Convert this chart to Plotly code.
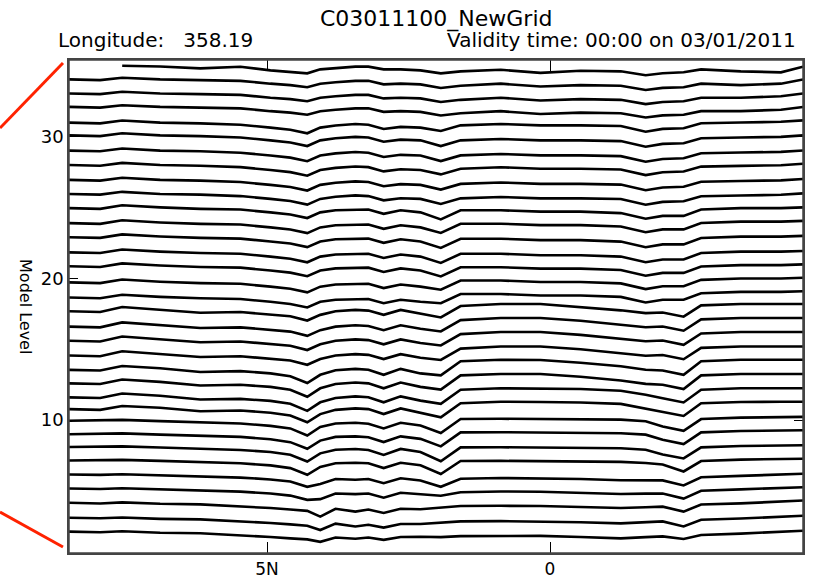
import plotly.graph_objects as go

# Latitude nodes (degrees north; negative = south)
latitude = [8.5, 7.95, 7.56, 6.89, 6.18, 5.47, 4.94, 4.59, 4.29, 4.06, 3.79, 3.44, 3.21, 2.94,
            2.64, 2.29, 1.93, 1.58, 0.87, 0.17, -0.54, -1.25, -1.69, -1.99, -2.36, -2.67,
            -3.37, -4.08, -4.47]

# Model-level surfaces (one list per line, bottom to top), in model-level units
model_level_lines = [
    [2.14, 2.09, 2.16, 2.06, 2.02, 1.89, 1.76, 1.66, 1.59, 1.42, 1.72, 1.64, 1.72, 1.56, 1.76, 1.78, 1.75, 1.82, 1.84, 1.84, 1.76, 1.66, 1.75, 1.8, 1.62, 1.9, 2.0, 2.1, 2.2],
    [3.12, 3.08, 3.13, 3.04, 3.0, 2.88, 2.75, 2.65, 2.55, 2.25, 2.7, 2.5, 2.62, 2.42, 2.68, 2.68, 2.75, 2.86, 2.88, 2.86, 2.8, 2.72, 2.8, 2.86, 2.5, 2.98, 3.06, 3.16, 3.26],
    [4.18, 4.12, 4.2, 4.1, 4.06, 3.93, 3.8, 3.7, 3.6, 3.2, 3.75, 3.55, 3.7, 3.45, 3.75, 3.72, 3.82, 3.95, 3.96, 3.95, 3.87, 3.8, 3.86, 3.9, 3.55, 4.05, 4.13, 4.23, 4.33],
    [5.18, 5.15, 5.2, 5.12, 5.08, 4.96, 4.83, 4.68, 4.38, 4.43, 4.83, 4.78, 4.83, 4.53, 4.88, 4.78, 4.67, 4.92, 4.97, 4.95, 4.87, 4.79, 4.82, 4.82, 4.47, 5.02, 5.12, 5.19, 5.27],
    [6.17, 6.14, 6.19, 6.11, 6.07, 5.95, 5.82, 5.67, 5.3, 5.5, 5.85, 5.8, 5.85, 5.55, 5.9, 5.75, 5.3, 5.87, 5.92, 5.9, 5.85, 5.76, 5.78, 5.75, 5.4, 5.97, 6.07, 6.14, 6.22],
    [7.16, 7.19, 7.2, 7.13, 7.06, 6.96, 6.81, 6.62, 6.15, 6.7, 6.96, 7.0, 6.96, 6.62, 7.0, 6.82, 6.2, 7.12, 7.13, 7.12, 7.1, 7.06, 6.98, 6.88, 6.38, 7.12, 7.22, 7.28, 7.28],
    [8.11, 8.14, 8.15, 8.07, 8.01, 7.9, 7.76, 7.56, 7.08, 7.66, 7.92, 7.97, 7.9, 7.55, 7.97, 7.75, 7.1, 8.08, 8.09, 8.08, 8.07, 8.02, 7.92, 7.58, 7.3, 8.08, 8.18, 8.22, 8.23],
    [9.01, 9.04, 9.07, 8.98, 8.9, 8.82, 8.66, 8.45, 7.98, 8.56, 8.82, 8.86, 8.8, 8.46, 8.86, 8.68, 8.15, 9.14, 9.15, 9.14, 9.13, 9.08, 8.98, 8.62, 8.32, 9.14, 9.24, 9.29, 9.29],
    [9.96, 10.0, 10.02, 9.93, 9.86, 9.77, 9.6, 9.42, 8.92, 9.52, 9.77, 9.82, 9.75, 9.42, 9.82, 9.62, 9.1, 10.08, 10.1, 10.08, 10.08, 10.04, 9.92, 9.55, 9.25, 10.08, 10.18, 10.22, 10.23],
    [10.78, 10.73, 11.0, 10.88, 10.63, 10.68, 10.53, 10.33, 9.85, 10.43, 10.73, 10.83, 10.78, 10.43, 10.83, 10.53, 10.2, 11.2, 11.3, 11.28, 11.25, 11.15, 10.8, 10.6, 10.3, 11.2, 11.28, 11.3, 11.3],
    [11.61, 11.56, 11.88, 11.72, 11.46, 11.5, 11.36, 11.16, 10.66, 11.26, 11.56, 11.68, 11.62, 11.26, 11.68, 11.38, 11.15, 12.15, 12.25, 12.25, 12.2, 12.08, 11.8, 11.55, 11.25, 12.15, 12.25, 12.25, 12.25],
    [12.6, 12.55, 12.87, 12.7, 12.45, 12.5, 12.35, 12.15, 11.65, 12.25, 12.55, 12.66, 12.6, 12.25, 12.66, 12.35, 12.16, 13.16, 13.26, 13.26, 13.06, 12.8, 12.56, 12.5, 12.2, 13.16, 13.26, 13.26, 13.26],
    [13.55, 13.5, 13.82, 13.66, 13.4, 13.46, 13.3, 13.1, 12.62, 13.2, 13.52, 13.62, 13.56, 13.2, 13.62, 13.3, 13.16, 14.16, 14.26, 14.25, 14.05, 13.8, 13.56, 13.5, 13.2, 14.16, 14.26, 14.26, 14.26],
    [14.56, 14.51, 14.86, 14.66, 14.46, 14.51, 14.36, 14.21, 13.91, 14.31, 14.56, 14.66, 14.61, 14.31, 14.66, 14.41, 14.25, 15.05, 15.2, 15.2, 15.0, 14.75, 14.55, 14.6, 14.3, 15.1, 15.2, 15.2, 15.2],
    [15.6, 15.55, 15.9, 15.7, 15.5, 15.55, 15.4, 15.25, 14.95, 15.35, 15.6, 15.7, 15.65, 15.35, 15.7, 15.45, 15.27, 16.07, 16.22, 16.22, 16.02, 15.77, 15.57, 15.62, 15.32, 16.12, 16.22, 16.22, 16.22],
    [16.6, 16.55, 16.9, 16.7, 16.5, 16.55, 16.4, 16.25, 15.95, 16.35, 16.6, 16.7, 16.65, 16.35, 16.7, 16.45, 16.26, 17.06, 17.21, 17.21, 17.01, 16.76, 16.56, 16.61, 16.31, 17.11, 17.21, 17.21, 17.21],
    [17.68, 17.63, 17.98, 17.78, 17.58, 17.63, 17.48, 17.33, 17.03, 17.43, 17.68, 17.78, 17.73, 17.43, 17.78, 17.53, 17.25, 18.05, 18.2, 18.2, 18.0, 17.75, 17.55, 17.6, 17.3, 18.1, 18.2, 18.2, 18.2],
    [18.65, 18.6, 18.85, 18.7, 18.6, 18.55, 18.35, 18.2, 17.95, 18.35, 18.5, 18.55, 18.55, 18.25, 18.5, 18.35, 18.25, 18.9, 18.9, 18.8, 18.8, 18.7, 18.3, 18.5, 18.5, 18.95, 19.05, 19.05, 19.1],
    [19.72, 19.67, 19.92, 19.77, 19.67, 19.62, 19.42, 19.27, 19.02, 19.42, 19.57, 19.62, 19.62, 19.32, 19.57, 19.42, 19.2, 19.85, 19.85, 19.75, 19.75, 19.65, 19.25, 19.45, 19.45, 19.9, 20.0, 20.0, 20.05],
    [20.86, 20.81, 21.06, 20.91, 20.81, 20.76, 20.56, 20.41, 20.16, 20.56, 20.71, 20.76, 20.76, 20.46, 20.71, 20.56, 20.14, 20.79, 20.79, 20.69, 20.69, 20.59, 20.19, 20.39, 20.39, 20.84, 20.94, 20.94, 20.99],
    [21.84, 21.79, 22.04, 21.89, 21.79, 21.74, 21.54, 21.39, 21.14, 21.54, 21.69, 21.74, 21.74, 21.44, 21.69, 21.54, 21.09, 21.74, 21.74, 21.64, 21.64, 21.54, 21.14, 21.34, 21.34, 21.79, 21.89, 21.89, 21.94],
    [22.91, 22.86, 23.11, 22.96, 22.86, 22.81, 22.61, 22.46, 22.21, 22.61, 22.76, 22.81, 22.81, 22.51, 22.76, 22.61, 22.15, 22.8, 22.8, 22.7, 22.7, 22.6, 22.2, 22.4, 22.4, 22.85, 22.95, 22.95, 23.0],
    [23.9, 23.85, 24.1, 23.95, 23.85, 23.8, 23.6, 23.45, 23.2, 23.6, 23.75, 23.8, 23.8, 23.5, 23.75, 23.6, 23.21, 23.86, 23.86, 23.76, 23.76, 23.66, 23.26, 23.46, 23.46, 23.91, 24.01, 24.01, 24.06],
    [24.96, 24.91, 25.16, 25.01, 24.91, 24.86, 24.66, 24.51, 24.26, 24.66, 24.81, 24.86, 24.86, 24.56, 24.81, 24.66, 24.16, 24.81, 24.81, 24.71, 24.71, 24.61, 24.21, 24.41, 24.41, 24.86, 24.96, 24.96, 25.01],
    [25.96, 25.91, 26.11, 25.96, 25.91, 25.81, 25.61, 25.46, 25.21, 25.61, 25.76, 25.86, 25.81, 25.51, 25.66, 25.61, 25.25, 25.65, 25.75, 25.65, 25.65, 25.6, 25.2, 25.4, 25.45, 25.8, 25.85, 25.9, 26.0],
    [26.95, 26.9, 27.1, 26.95, 26.9, 26.8, 26.6, 26.45, 26.2, 26.6, 26.75, 26.85, 26.8, 26.5, 26.65, 26.6, 26.27, 26.67, 26.77, 26.67, 26.67, 26.62, 26.22, 26.42, 26.47, 26.82, 26.87, 26.92, 27.02],
    [28.0, 27.95, 28.15, 28.0, 27.95, 27.85, 27.65, 27.5, 27.25, 27.65, 27.8, 27.9, 27.85, 27.55, 27.7, 27.65, 27.34, 27.74, 27.84, 27.74, 27.74, 27.69, 27.29, 27.49, 27.54, 27.89, 27.94, 27.99, 28.09],
    [29.02, 28.97, 29.17, 29.02, 28.97, 28.87, 28.67, 28.52, 28.27, 28.67, 28.82, 28.92, 28.87, 28.57, 28.72, 28.67, 28.28, 28.68, 28.78, 28.68, 28.68, 28.63, 28.23, 28.43, 28.48, 28.83, 28.88, 28.93, 29.03],
    [30.09, 30.04, 30.24, 30.09, 30.04, 29.94, 29.74, 29.59, 29.34, 29.74, 29.89, 29.99, 29.94, 29.64, 29.79, 29.74, 29.34, 29.74, 29.84, 29.74, 29.74, 29.69, 29.29, 29.49, 29.54, 29.89, 29.94, 29.99, 30.09],
    [30.99, 30.94, 31.14, 30.99, 30.94, 30.84, 30.64, 30.49, 30.24, 30.64, 30.79, 30.89, 30.84, 30.54, 30.69, 30.64, 30.4, 30.8, 30.9, 30.8, 30.8, 30.75, 30.35, 30.55, 30.6, 30.95, 31.0, 31.05, 31.15],
    [32.1, 32.05, 32.22, 32.1, 32.05, 32.0, 31.8, 31.7, 31.55, 31.8, 31.9, 32.0, 32.0, 31.75, 31.8, 31.75, 31.5, 31.65, 31.8, 31.6, 31.7, 31.65, 31.35, 31.5, 31.55, 31.8, 31.8, 31.9, 32.1],
    [33.05, 33.0, 33.17, 33.05, 33.0, 32.95, 32.75, 32.65, 32.5, 32.75, 32.85, 32.95, 32.95, 32.7, 32.75, 32.7, 32.45, 32.6, 32.75, 32.55, 32.65, 32.6, 32.3, 32.45, 32.5, 32.75, 32.75, 32.85, 33.05],
    [34.04, 33.99, 34.16, 34.04, 33.99, 33.94, 33.74, 33.64, 33.49, 33.74, 33.84, 33.94, 33.94, 33.69, 33.74, 33.69, 33.44, 33.59, 33.74, 33.54, 33.64, 33.59, 33.29, 33.44, 33.49, 33.74, 33.64, 33.74, 34.04],
    [None, None, 35.0, 34.95, 34.82, 34.93, 34.68, 34.57, 34.47, 34.75, 34.82, 34.94, 34.94, 34.75, 34.75, 34.68, 34.47, 34.61, 34.72, 34.5, 34.65, 34.61, 34.33, 34.47, 34.54, 34.75, 34.61, 34.54, 34.94],
]

x_tick_values = [5, 0]
x_tick_labels = ["5N", "0"]
y_tick_values = [10, 20, 30]

title_text = "C03011100_NewGrid"
longitude_text = "Longitude:\u00a0\u00a0\u00a0358.19"
validity_text = "Validity time: 00:00 on 03/01/2011"
y_label = "Model Level"

for line in model_level_lines:
    assert len(line) == len(latitude)

fig = go.Figure()
for line in model_level_lines:
    fig.add_trace(go.Scatter(x=latitude, y=line, mode="lines",
                             line=dict(color="black", width=2.6),
                             hoverinfo="skip", showlegend=False))

FONT = "DejaVu Sans"
fig.update_layout(
    template="none",
    width=820, height=581,
    margin=dict(l=69, r=17, t=60, b=28, autoexpand=False),
    paper_bgcolor="white", plot_bgcolor="white",
    font=dict(family=FONT, color="black"),
    showlegend=False,
    xaxis=dict(range=[8.5, -4.47], tickvals=x_tick_values, ticktext=x_tick_labels,
               ticks="inside", ticklen=11, tickwidth=1, tickcolor="black",
               showline=True, linecolor="#444444", linewidth=1.5, mirror="ticks",
               showgrid=False, zeroline=False, automargin=False,
               tickfont=dict(size=17, family=FONT)),
    yaxis=dict(range=[0.63, 35.41], tickvals=y_tick_values,
               ticks="inside", ticklen=9, tickwidth=1, tickcolor="black",
               showline=True, linecolor="#444444", linewidth=1.5, mirror="ticks",
               showgrid=False, zeroline=False, automargin=False,
               tickfont=dict(size=18, family=FONT)),
)

annotations = [
    dict(text=title_text, x=0.5, y=1.083, xref="paper", yref="paper",
         xanchor="center", yanchor="middle", showarrow=False, font=dict(size=22, family=FONT)),
    dict(text=longitude_text, x=-0.0177, y=1.041, xref="paper", yref="paper",
         xanchor="left", yanchor="middle", showarrow=False, font=dict(size=20, family=FONT)),
    dict(text=validity_text, x=0.993, y=1.041, xref="paper", yref="paper",
         xanchor="right", yanchor="middle", showarrow=False, font=dict(size=20, family=FONT)),
    dict(text=y_label, x=-0.06, y=0.499, xref="paper", yref="paper", textangle=90,
         xanchor="center", yanchor="middle", showarrow=False, font=dict(size=16, family=FONT)),
]
fig.update_layout(annotations=annotations)

# plot frame
fig.add_shape(type="rect", xref="paper", yref="paper", x0=0, y0=0, x1=1, y1=1,
              line=dict(color="#444444", width=1.5), fillcolor="rgba(0,0,0,0)", layer="above")

# red guide lines to the left of the frame
fig.add_shape(type="line", xref="paper", yref="paper", x0=-0.094, y0=0.862, x1=-0.0082, y1=0.994,
              line=dict(color="#ff2200", width=3))
fig.add_shape(type="line", xref="paper", yref="paper", x0=-0.094, y0=0.0832, x1=-0.0082, y1=0.0122,
              line=dict(color="#ff2200", width=3))

fig.write_html("out.html", config={"displayModeBar": False},
               post_script="document.body.style.margin='0';document.body.style.padding='0';")
